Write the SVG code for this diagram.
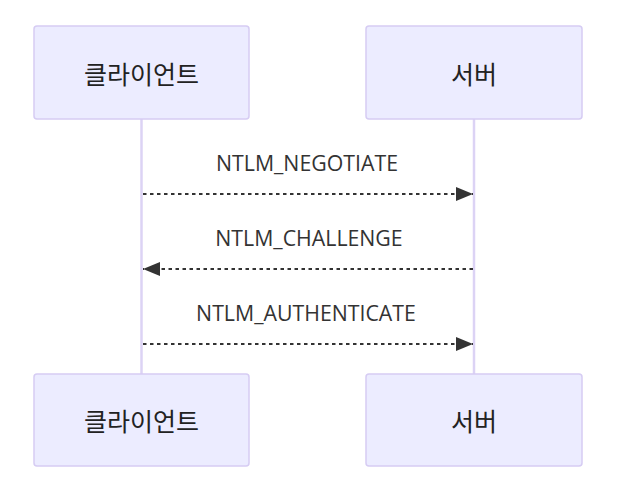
<svg xmlns="http://www.w3.org/2000/svg" width="617" height="492" viewBox="0 0 617 492">
<style>
.actor{fill:#ECECFF;stroke:#D6CCF3;stroke-width:1.5}
.alabel{font-family:"Noto Sans CJK KR","Noto Sans",sans-serif;font-size:25px;fill:#222;text-anchor:middle;dominant-baseline:central}
.life{stroke:#DCD3F5;stroke-width:2.5}
.msg{stroke:#333;stroke-width:2;stroke-dasharray:3.5,3.5;fill:none}
.mlabel{font-family:"Open Sans","DejaVu Sans",sans-serif;font-size:21.3px;fill:#333;text-anchor:middle}
</style>
<defs>
<marker id="arrow" viewBox="0 0 17 14" refX="17" refY="7" markerWidth="17" markerHeight="14" markerUnits="userSpaceOnUse" orient="auto">
<path d="M0,0 L17,7 L0,14 Z" fill="#333"/>
</marker>
</defs>
<g id="lifelines">
<line class="life" x1="141.5" y1="119" x2="141.5" y2="374"/>
<line class="life" x1="474" y1="119" x2="474" y2="374"/>
</g>
<g id="client-top"><rect class="actor" x="34" y="26" width="215" height="93" rx="3"/><text class="alabel" x="141.5" y="72.5">클라이언트</text></g>
<g id="server-top"><rect class="actor" x="366" y="26" width="216" height="93" rx="3"/><text class="alabel" x="474" y="72.5">서버</text></g>
<g id="client-bottom"><rect class="actor" x="34" y="374" width="215" height="92" rx="3"/><text class="alabel" x="141.5" y="420">클라이언트</text></g>
<g id="server-bottom"><rect class="actor" x="366" y="374" width="216" height="92" rx="3"/><text class="alabel" x="474" y="420">서버</text></g>
<g id="connectors">
<line class="msg" x1="143" y1="194" x2="473" y2="194" marker-end="url(#arrow)"/>
<text class="mlabel" x="307" y="171">NTLM_NEGOTIATE</text>
<line class="msg" x1="473" y1="269" x2="143" y2="269" marker-end="url(#arrow)"/>
<text class="mlabel" x="309" y="246">NTLM_CHALLENGE</text>
<line class="msg" x1="143" y1="344" x2="473" y2="344" marker-end="url(#arrow)"/>
<text class="mlabel" x="306" y="321">NTLM_AUTHENTICATE</text>
</g>
</svg>
